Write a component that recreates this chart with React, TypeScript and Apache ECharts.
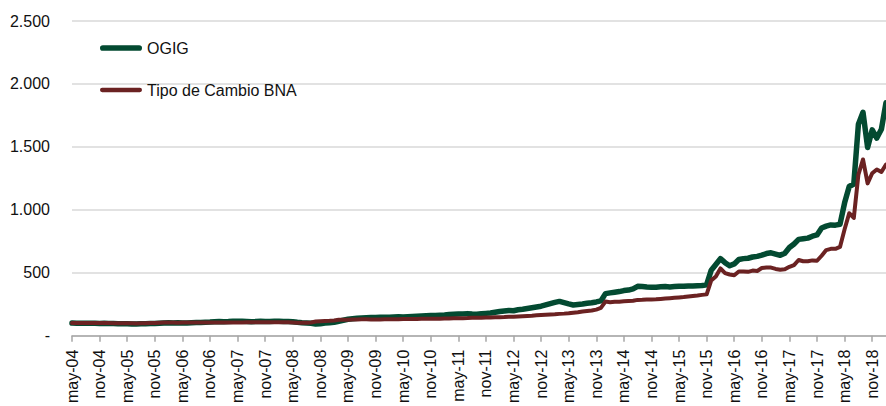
import React, { useEffect, useRef } from "react";
import * as echarts from "echarts";

const MONTHS = ["ene", "feb", "mar", "abr", "may", "jun", "jul", "ago", "sep", "oct", "nov", "dic"];
const FIRST_YEAR = 2004;
const FIRST_MONTH = 4; // may
const LAST_YEAR = 2019;
const LAST_MONTH = 1; // feb

const categories: string[] = [];
for (let y = FIRST_YEAR; y <= LAST_YEAR; y++) {
  for (let m = 0; m < 12; m++) {
    if (y === FIRST_YEAR && m < FIRST_MONTH) continue;
    if (y === LAST_YEAR && m > LAST_MONTH) continue;
    categories.push(`${MONTHS[m]}-${String(y).slice(2)}`);
  }
}

const ogig2004 = [100, 99, 98, 99, 99, 98, 97, 98];
const ogig2005 = [97, 96, 95, 94, 94, 93, 93, 94, 95, 96, 97, 99];
const ogig2006 = [101, 102, 101, 103, 100, 101, 103, 104, 105, 107, 108, 110];
const ogig2007 = [112, 111, 112, 114, 115, 114, 113, 111, 112, 114, 112, 113];
const ogig2008 = [114, 115, 113, 112, 110, 106, 103, 101, 99, 92, 94, 100];
const ogig2009 = [103, 106, 114, 122, 130, 134, 138, 140, 142, 144, 145, 146];
const ogig2010 = [147, 146, 148, 150, 149, 151, 153, 155, 157, 159, 160, 161];
const ogig2011 = [163, 165, 168, 170, 172, 173, 175, 172, 171, 174, 177, 180];
const ogig2012 = [186, 192, 196, 200, 198, 206, 210, 216, 222, 228, 234, 244];
const ogig2013 = [254, 264, 272, 262, 252, 244, 248, 252, 258, 262, 268, 276];
const ogig2014 = [334, 340, 345, 350, 358, 362, 372, 392, 390, 386, 384, 385];
const ogig2015 = [388, 390, 387, 390, 393, 392, 395, 394, 396, 398, 405, 520];
const ogig2016 = [565, 612, 580, 555, 570, 605, 612, 615, 625, 630, 640, 652];
const ogig2017 = [658, 648, 638, 655, 700, 728, 765, 770, 775, 790, 800, 855];
const ogig2018 = [870, 880, 878, 885, 1055, 1185, 1205, 1680, 1775, 1495, 1635, 1570];
const ogig2019 = [1640, 1850];

const bna2004 = [100, 100, 100, 101, 101, 100, 100, 101];
const bna2005 = [100, 99, 99, 98, 98, 98, 97, 98, 98, 101, 100, 102];
const bna2006 = [104, 104, 104, 103, 104, 104, 104, 105, 105, 105, 104, 104];
const bna2007 = [105, 105, 105, 104, 104, 104, 106, 107, 107, 107, 106, 106];
const bna2008 = [107, 107, 107, 107, 105, 103, 102, 103, 105, 113, 115, 117];
const bna2009 = [118, 120, 126, 126, 127, 128, 129, 130, 130, 129, 129, 128];
const bna2010 = [130, 131, 131, 131, 132, 133, 133, 133, 134, 134, 134, 134];
const bna2011 = [135, 136, 137, 138, 138, 139, 140, 142, 142, 143, 145, 145];
const bna2012 = [147, 147, 148, 150, 151, 153, 155, 157, 159, 162, 164, 166];
const bna2013 = [168, 170, 173, 175, 178, 182, 186, 192, 196, 200, 207, 220];
const bna2014 = [271, 266, 270, 270, 273, 275, 277, 284, 285, 287, 288, 289];
const bna2015 = [292, 295, 298, 301, 304, 307, 311, 315, 319, 324, 328, 439];
const bna2016 = [470, 534, 497, 486, 480, 510, 510, 507, 517, 514, 537, 541];
const bna2017 = [541, 530, 524, 527, 547, 561, 601, 591, 591, 598, 595, 635];
const bna2018 = [680, 690, 690, 705, 845, 973, 935, 1280, 1400, 1210, 1290, 1320];
const bna2019 = [1300, 1360];

const ogig = [
  ...ogig2004, ...ogig2005, ...ogig2006, ...ogig2007, ...ogig2008, ...ogig2009, ...ogig2010, ...ogig2011,
  ...ogig2012, ...ogig2013, ...ogig2014, ...ogig2015, ...ogig2016, ...ogig2017, ...ogig2018, ...ogig2019,
];
const bna = [
  ...bna2004, ...bna2005, ...bna2006, ...bna2007, ...bna2008, ...bna2009, ...bna2010, ...bna2011,
  ...bna2012, ...bna2013, ...bna2014, ...bna2015, ...bna2016, ...bna2017, ...bna2018, ...bna2019,
];

const SERIES_NAMES = ["OGIG", "Tipo de Cambio BNA"];
const Y_MIN = 0;
const Y_MAX = 2500;
const Y_STEP = 500;

const FONT = "'Liberation Sans', Arial, sans-serif";
const GREEN = "#034a31";
const MAROON = "#6b2222";

// rounded-bar legend icons (thick for OGIG, thinner for BNA)
const ICON_THICK = "path://M2.85,0H39.15A2.85,2.85,0,0,1,39.15,5.7H2.85A2.85,2.85,0,0,1,2.85,0Z";
const ICON_THIN = "path://M2.15,0H39.85A2.15,2.15,0,0,1,39.85,4.3H2.15A2.15,2.15,0,0,1,2.15,0Z";

function fmt(v: number): string {
  if (v === 0) return "-";
  return String(v).replace(/\B(?=(\d{3})+(?!\d))/g, ".");
}

export default function App() {
  const ref = useRef<HTMLDivElement>(null);
  useEffect(() => {
    if (!ref.current) return;
    const chart = echarts.init(ref.current, undefined, { renderer: "svg" });
    chart.setOption({
      animation: false,
      backgroundColor: "#ffffff",
      textStyle: { fontFamily: FONT },
      grid: { left: 72, right: 0, top: 21, bottom: 64, containLabel: false },
      legend: {
        orient: "vertical",
        left: 95,
        top: 35,
        padding: 5,
        itemWidth: 42,
        itemHeight: 14,
        itemGap: 26,
        symbolKeepAspect: true,
        textStyle: { fontSize: 16, color: "#111", fontFamily: FONT },
        data: [
          { name: SERIES_NAMES[0], icon: ICON_THICK, itemStyle: { color: GREEN } },
          { name: SERIES_NAMES[1], icon: ICON_THIN, itemStyle: { color: MAROON } },
        ],
      },
      xAxis: {
        type: "category",
        data: categories,
        boundaryGap: false,
        axisLine: { show: true, lineStyle: { color: "#a6a6a6", width: 1.5 } },
        axisTick: { show: true, interval: 5, length: 6, lineStyle: { color: "#a6a6a6", width: 1.5 } },
        axisLabel: {
          interval: 5,
          rotate: 90,
          margin: 14,
          fontSize: 16,
          color: "#111",
          fontFamily: FONT,
        },
        splitLine: { show: false },
      },
      yAxis: {
        type: "value",
        min: Y_MIN,
        max: Y_MAX,
        interval: Y_STEP,
        axisLine: { show: false },
        axisTick: { show: false },
        axisLabel: { margin: 22, fontSize: 16, color: "#111", fontFamily: FONT, formatter: fmt },
        splitLine: { show: true, lineStyle: { color: "#d9d9d9", width: 1.5 } },
      },
      series: [
        {
          name: SERIES_NAMES[0],
          type: "line",
          data: ogig,
          symbol: "none",
          showSymbol: false,
          lineStyle: { color: GREEN, width: 5.5, cap: "round", join: "round" },
          itemStyle: { color: GREEN },
        },
        {
          name: SERIES_NAMES[1],
          type: "line",
          data: bna,
          symbol: "none",
          showSymbol: false,
          lineStyle: { color: MAROON, width: 4, cap: "round", join: "round" },
          itemStyle: { color: MAROON },
        },
      ],
    });
    return () => chart.dispose();
  }, []);
  return (
    <div
      ref={ref}
      style={{ position: "fixed", left: 0, top: 0, width: 886, height: 406 }}
    />
  );
}
